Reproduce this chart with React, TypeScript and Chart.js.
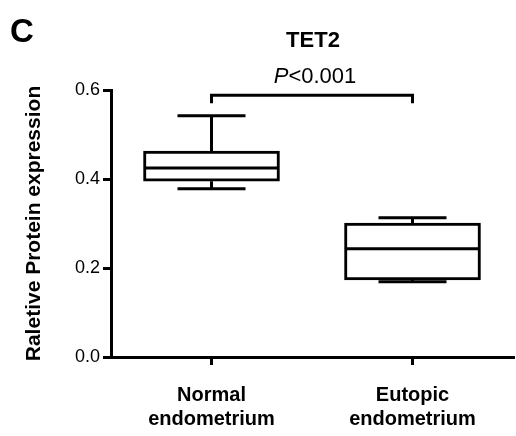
import React, { useEffect, useRef } from 'react';
import { Chart, registerables } from 'chart.js';

Chart.register(...registerables);

// ---- data ----
const categories: string[][] = [['Normal', 'endometrium'], ['Eutopic', 'endometrium']];
const whiskerMin = [0.378, 0.169];
const quartile1 = [0.395, 0.173];
const medians = [0.425, 0.243];
const quartile3 = [0.463, 0.301];
const whiskerMax = [0.542, 0.313];
const yTicks = [0, 0.2, 0.4, 0.6];
const chartTitle = 'TET2';
const panelLabel = 'C';
const yAxisTitle = 'Raletive Protein expression';
const pLabelItalic = 'P';
const pLabelRest = '<0.001';
const bracketTop = 0.588;
const bracketEnd = 0.570;

const FONT = '"Liberation Sans", Arial, sans-serif';

const boxPlotPlugin = {
  id: 'boxPlotExtras',
  afterDatasetsDraw(chart: any) {
    const { ctx } = chart;
    const y = chart.scales.y;
    const meta = chart.getDatasetMeta(0);
    ctx.save();
    ctx.strokeStyle = '#000';
    ctx.lineWidth = 3;
    ctx.lineCap = 'butt';
    meta.data.forEach((bar: any, i: number) => {
      const { x: cx, width: w } = bar.getProps(['x', 'width'], true);
      const capHalf = w / 4;
      const yMax = y.getPixelForValue(whiskerMax[i]);
      const yQ3 = y.getPixelForValue(quartile3[i]);
      const yQ1 = y.getPixelForValue(quartile1[i]);
      const yMin = y.getPixelForValue(whiskerMin[i]);
      const yMed = y.getPixelForValue(medians[i]);
      ctx.beginPath();
      // upper whisker
      ctx.moveTo(cx, yQ3);
      ctx.lineTo(cx, yMax);
      ctx.moveTo(cx - capHalf, yMax);
      ctx.lineTo(cx + capHalf, yMax);
      // lower whisker
      ctx.moveTo(cx, yQ1);
      ctx.lineTo(cx, yMin);
      ctx.moveTo(cx - capHalf, yMin);
      ctx.lineTo(cx + capHalf, yMin);
      // median
      ctx.moveTo(cx - w / 2 + 1.5, yMed);
      ctx.lineTo(cx + w / 2 - 1.5, yMed);
      ctx.stroke();
    });
    ctx.restore();
  },
  afterDraw(chart: any) {
    const { ctx } = chart;
    const x = chart.scales.x;
    const y = chart.scales.y;
    const x0 = x.getPixelForValue(0);
    const x1 = x.getPixelForValue(1);
    const yt = y.getPixelForValue(bracketTop);
    const ye = y.getPixelForValue(bracketEnd);
    ctx.save();
    ctx.strokeStyle = '#000';
    ctx.lineWidth = 3;
    ctx.lineJoin = 'miter';
    ctx.beginPath();
    ctx.moveTo(x0, ye);
    ctx.lineTo(x0, yt);
    ctx.lineTo(x1, yt);
    ctx.lineTo(x1, ye);
    ctx.stroke();

    const mid = (x0 + x1) / 2;
    // P value label
    ctx.fillStyle = '#000';
    ctx.textBaseline = 'alphabetic';
    ctx.font = `italic 22px ${FONT}`;
    const wP = ctx.measureText(pLabelItalic).width;
    ctx.font = `22px ${FONT}`;
    const wR = ctx.measureText(pLabelRest).width;
    const start = mid + 3 - (wP + wR) / 2;
    ctx.textAlign = 'left';
    ctx.font = `italic 22px ${FONT}`;
    ctx.fillText(pLabelItalic, start, 83);
    ctx.font = `22px ${FONT}`;
    ctx.fillText(pLabelRest, start + wP, 83);

    // title
    ctx.textAlign = 'center';
    ctx.font = `bold 22px ${FONT}`;
    ctx.fillText(chartTitle, mid + 1, 47);

    // panel label
    ctx.textAlign = 'left';
    ctx.font = `bold 33px ${FONT}`;
    ctx.fillText(panelLabel, 10, 42);
    ctx.restore();
  },
};

export default function App() {
  const ref = useRef<HTMLCanvasElement | null>(null);
  useEffect(() => {
    document.body.style.margin = '0';
    if (!ref.current) return;
    const chart = new Chart(ref.current, {
      type: 'bar',
      data: {
        labels: categories,
        datasets: [
          {
            data: quartile1.map((q, i) => [q, quartile3[i]]),
            backgroundColor: '#fff',
            borderColor: '#000',
            borderWidth: 3,
            borderSkipped: false,
            barThickness: 136,
          } as any,
        ],
      },
      options: {
        animation: false,
        responsive: false,
        devicePixelRatio: 1,
        layout: { padding: { top: 90, right: 3, bottom: 0, left: 0 } },
        plugins: {
          legend: { display: false },
          tooltip: { enabled: false },
          title: { display: false },
        },
        scales: {
          x: {
            type: 'category',
            offset: true,
            border: { display: true, color: '#000', width: 3 },
            grid: {
              offset: false,
              drawOnChartArea: false,
              drawTicks: true,
              tickLength: 8,
              color: '#000',
              lineWidth: 3,
            },
            ticks: {
              color: '#000',
              font: { family: FONT, size: 20, weight: 'bold', lineHeight: 1.2 },
              padding: 18,
              maxRotation: 0,
              autoSkip: false,
            },
            afterFit: (s: any) => {
              s.height = 79;
            },
          },
          y: {
            min: 0,
            max: 0.6,
            border: { display: true, color: '#000', width: 3 },
            grid: {
              drawOnChartArea: false,
              drawTicks: true,
              tickLength: 8,
              color: '#000',
              lineWidth: 3,
            },
            afterBuildTicks: (s: any) => {
              s.ticks = yTicks.map((v) => ({ value: v }));
            },
            ticks: {
              color: '#000',
              font: { family: FONT, size: 18 },
              padding: 3,
              callback: (v: any) => Number(v).toFixed(1),
            },
            title: {
              display: true,
              text: yAxisTitle,
              color: '#000',
              font: { family: FONT, size: 21, weight: 'bold' },
              padding: { top: 22, bottom: 0 },
            },
            afterFit: (s: any) => {
              s.width = 111;
            },
          },
        },
      },
      plugins: [boxPlotPlugin],
    });
    return () => chart.destroy();
  }, []);
  return (
    <div style={{ position: 'absolute', left: 0, top: 0, width: 516, height: 436, background: '#fff' }}>
      <canvas ref={ref} width={516} height={436} />
    </div>
  );
}
